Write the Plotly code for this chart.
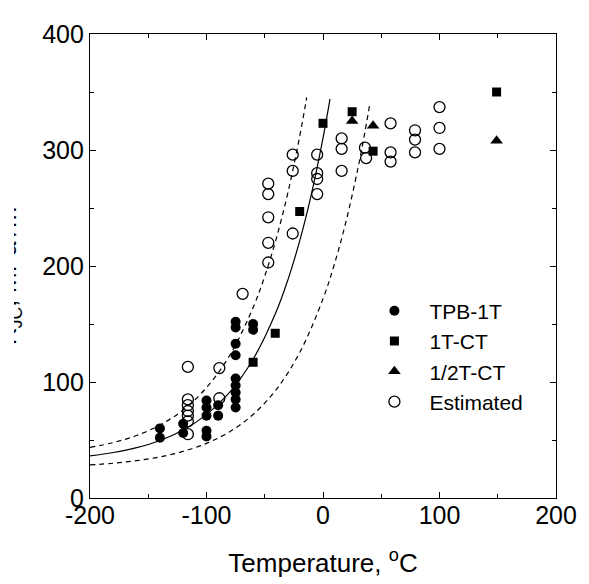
import plotly.graph_objects as go

# TPB-1T (filled circles)
tpb_T = [-140, -140, -120, -120, -100, -100, -100, -100, -100, -90, -90,
         -75, -75, -75, -75, -75, -75, -75, -75, -75, -60, -60]
tpb_K = [60, 52, 64, 56, 84, 78, 71, 58, 53, 80, 71,
         152, 147, 133, 123, 103, 97, 91, 85, 78, 150, 145]

# 1T-CT (filled squares)
ct1_T = [-60, -41, -20, 0, 25, 43, 149]
ct1_K = [117, 142, 247, 323, 333, 299, 350]

# 1/2T-CT (filled triangles)
ct2_T = [25, 43, 149]
ct2_K = [325, 321, 308]

# Estimated (open circles)
est_T = [-116, -116, -116, -116, -116, -116, -116, -89, -89, -69,
         -47, -47, -47, -47, -47, -26, -26, -26, -5, -5, -5, -5,
         16, 16, 16, 36, 37, 58, 58, 58, 79, 79, 79, 100, 100, 100]
est_K = [113, 85, 80, 75, 71, 66, 55, 112, 86, 176,
         271, 262, 242, 220, 203, 296, 282, 228, 296, 280, 275, 262,
         310, 301, 282, 302, 293, 323, 298, 290, 317, 309, 298, 337, 319, 301]

# Median curve
med_T = [-200, -180, -160, -140, -120, -100, -80, -60, -40, -30, -20, -10, 0, 5, 6]
med_K = [36.3, 39.2, 43.4, 49.6, 58.7, 71.9, 91.3, 119.6, 161.0, 188.5, 221.6, 261.7, 310.2, 338.1, 344.0]

# Upper bound (dashed)
up_T = [-200, -180, -160, -140, -120, -100, -80, -60, -50, -40, -30, -20, -15, -14]
up_K = [43.6, 47.8, 53.9, 62.9, 75.9, 95.2, 123.1, 164.2, 191.3, 224.1, 263.8, 311.8, 339.4, 345.3]

# Lower bound (dashed)
lo_T = [-200, -180, -160, -140, -120, -100, -80, -60, -40, -20, 0, 10, 20, 30, 35, 40]
lo_K = [28.5, 30.0, 32.2, 35.4, 40.2, 47.1, 57.2, 72.0, 93.7, 125.4, 171.7, 202.3, 239.4, 284.3, 310.1, 338.5]

x_ticks = [-200, -100, 0, 100, 200]
y_ticks = [0, 100, 200, 300, 400]

FONT = "Arial, Liberation Sans, sans-serif"

fig = go.Figure()

for xs, ys, dash in [(up_T, up_K, "5px,4px"), (lo_T, lo_K, "5px,4px"), (med_T, med_K, "solid")]:
    fig.add_trace(go.Scatter(x=xs, y=ys, mode="lines", line=dict(color="black", width=1.2, dash=dash, shape="spline"),
                             showlegend=False, hoverinfo="skip"))

fig.add_trace(go.Scatter(x=tpb_T, y=tpb_K, mode="markers", name="TPB-1T",
                         marker=dict(symbol="circle", size=10, color="black")))
fig.add_trace(go.Scatter(x=ct1_T, y=ct1_K, mode="markers", name="1T-CT",
                         marker=dict(symbol="square", size=9, color="black")))
fig.add_trace(go.Scatter(x=ct2_T, y=ct2_K, mode="markers", name="1/2T-CT",
                         marker=dict(symbol="triangle-up", size=11, color="black")))
fig.add_trace(go.Scatter(x=est_T, y=est_K, mode="markers", name="Estimated",
                         marker=dict(symbol="circle-open", size=11, color="black", line=dict(width=1.3))))

axis_common = dict(showline=True, linecolor="black", linewidth=1.3, mirror="ticks",
                   ticks="inside", ticklen=6, tickwidth=1.2, tickcolor="black",
                   showgrid=False, zeroline=False, ticklabeloverflow="allow",
                   tickfont=dict(family=FONT, size=25, color="black"),
                   minor=dict(ticks="inside", ticklen=4, tickwidth=1.2, tickcolor="black", showgrid=False))

fig.update_xaxes(range=[-200, 200], tickvals=x_ticks, ticktext=[str(v) for v in x_ticks],
                 minor_dtick=50, ticklabelstandoff=-5, **axis_common,
                 title=dict(text="Temperature, <sup>o</sup>C", font=dict(family=FONT, size=26, color="black"), standoff=25))
fig.update_yaxes(range=[0, 400], tickvals=y_ticks, ticktext=[str(v) for v in y_ticks],
                 minor_dtick=50, **axis_common)

# page body has an 8px margin: the figure is shrunk so the plot area sits where the reference has it
L, T = 82, 12
PW = 581 - L - 32

# y-axis title, clipped at the left edge as in the reference
fig.add_annotation(text="K<sub>JC</sub>, MPa√m", textangle=-90, xref="paper", yref="paper",
                   x=(19 - L) / PW, y=0.479, xanchor="right", yanchor="middle", showarrow=False,
                   font=dict(family=FONT, size=25, color="black"))
# white strip reproducing the cut edge of the reference picture
fig.add_annotation(text=" ", xref="paper", yref="paper", x=(6 - L) / PW, y=0.479,
                   xanchor="right", yanchor="middle", showarrow=False, width=8, height=220,
                   bgcolor="white", borderwidth=0, borderpad=0, font=dict(size=4))

fig.update_layout(width=581, height=576, margin=dict(l=L, r=32, t=T, b=86),
                  plot_bgcolor="white", paper_bgcolor="white",
                  legend=dict(x=(360 - 90) / 467, y=0.447, xanchor="left", yanchor="top", itemwidth=60,
                              font=dict(family=FONT, size=21, color="black"),
                              bgcolor="rgba(0,0,0,0)", tracegroupgap=0))

fig.write_html("out.html")
